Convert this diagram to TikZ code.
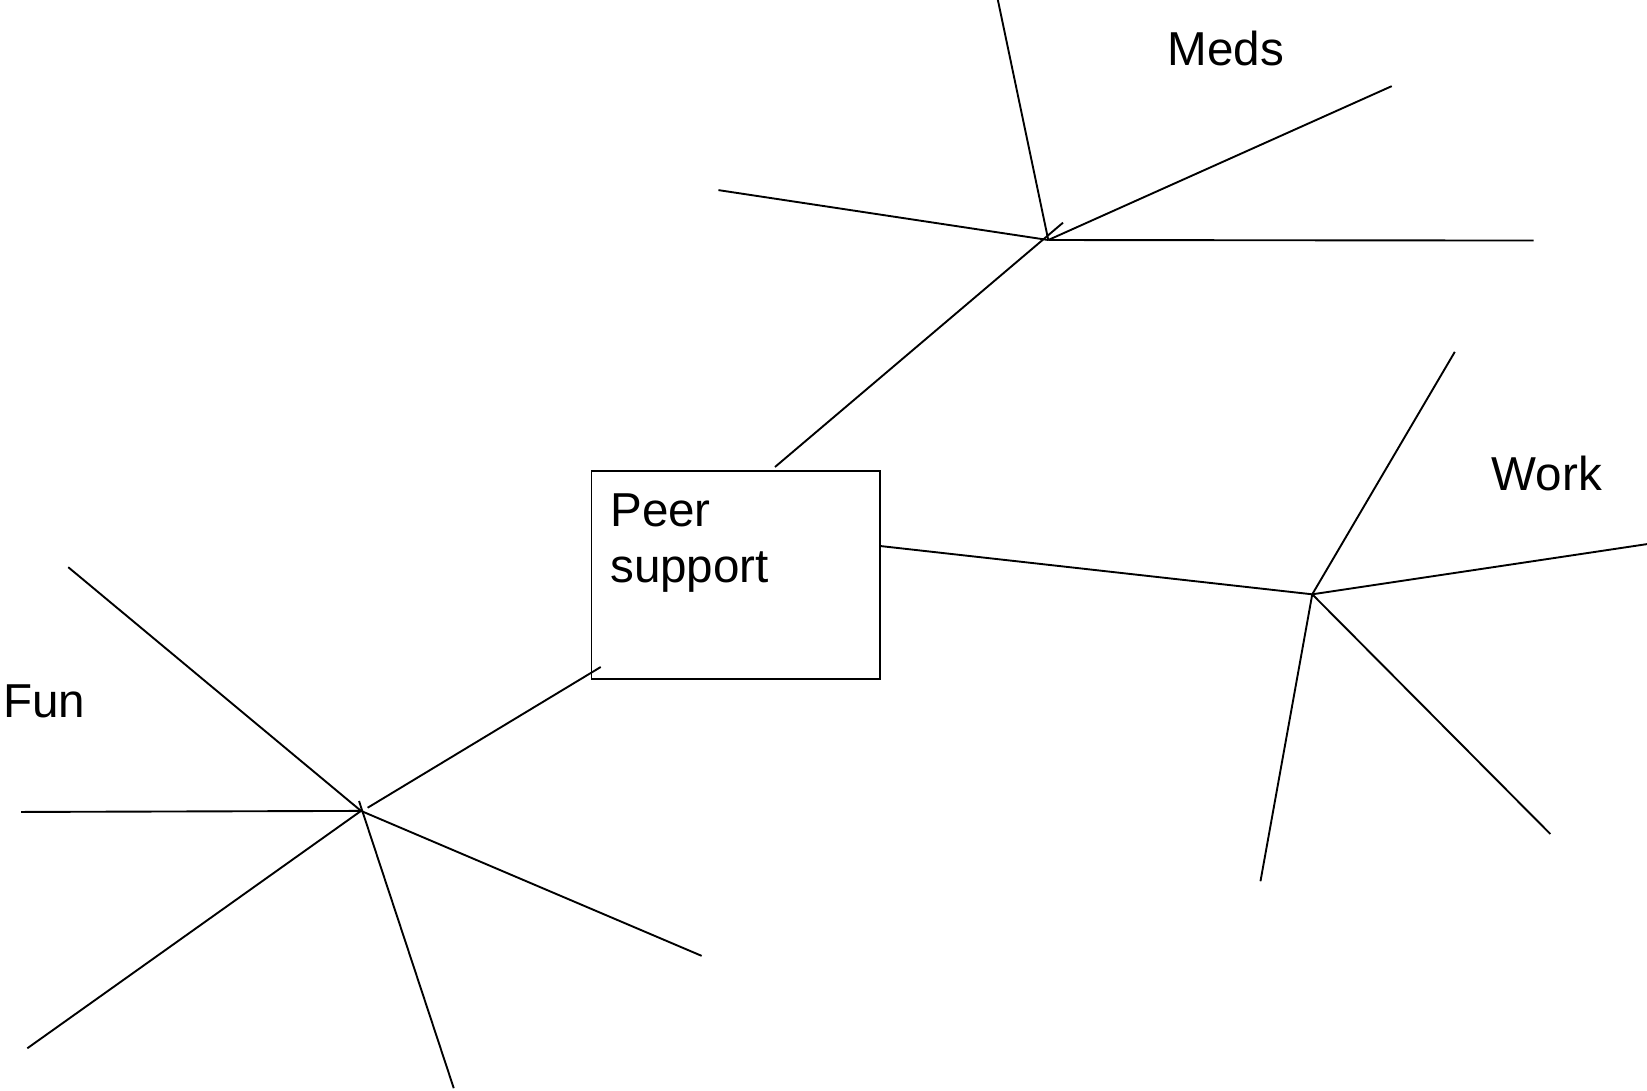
\documentclass[tikz,border=0pt]{standalone}
\usepackage{fontspec}
\setmainfont{Liberation Sans}
\begin{document}
\begin{tikzpicture}[x=1pt,y=-1pt,
  conn/.style={line width=1.8pt, black},
  lbl/.style={inner sep=0pt, anchor=base west, font=\fontsize{45.3}{53.3}\selectfont},
  boxnode/.style={draw, line width=1.8pt, inner sep=0pt, anchor=north west,
    minimum width=274.9pt, minimum height=198.1pt}]
\useasboundingbox (0,0) rectangle (1568,1038.65);
% central box
\node[boxnode] (box) at (562.2,447.4) {};
\node[lbl] (peer) at (580.8,501.7) {Peer};
\node[lbl] (support) at (580.8,555.0) {support};
% labels
\node[lbl] (meds) at (1111.6,62.8) {Meds};
\node[lbl] (work) at (1420,467.1) {Work};
\node[lbl] (fun) at (2.7,683.0) {Fun};
% hubs
\coordinate (M) at (998,228.5);
\coordinate (W) at (1249.3,565.8);
\coordinate (F) at (343.7,772);
% box attachment points
\coordinate (bt) at (737.8,444.6);
\coordinate (br) at (837.8,519.8);
\coordinate (bl) at (571.9,635);
\coordinate (mx) at (1012,212);
\coordinate (fx) at (350,769);
% Meds branches
\coordinate (m1) at (950,0);
\coordinate (m2) at (684,181);
\coordinate (m3) at (1325,82);
\coordinate (m4) at (1460,229);
% Work branches
\coordinate (w1) at (1385,335);
\coordinate (w2) at (1568,518);
\coordinate (w3) at (1476,794);
\coordinate (w4) at (1200,839);
% Fun branches
\coordinate (f1) at (65,540);
\coordinate (f2) at (20,773);
\coordinate (f3) at (668,910);
\coordinate (f4) at (26,998);
\coordinate (f5s) at (341.8,762.6);
\coordinate (f5) at (432,1036);
% connectors
\draw[conn] (bt) -- (mx);
\draw[conn] (m1) -- (M);
\draw[conn] (m2) -- (M);
\draw[conn] (M) -- (m3);
\draw[conn] (M) -- (m4);
\draw[conn] (br) -- (W);
\draw[conn] (W) -- (w1);
\draw[conn] (W) -- (w2);
\draw[conn] (W) -- (w3);
\draw[conn] (W) -- (w4);
\draw[conn] (bl) -- (fx);
\draw[conn] (f1) -- (F);
\draw[conn] (f2) -- (F);
\draw[conn] (F) -- (f3);
\draw[conn] (F) -- (f4);
\draw[conn] (f5s) -- (f5);
\end{tikzpicture}
\end{document}
